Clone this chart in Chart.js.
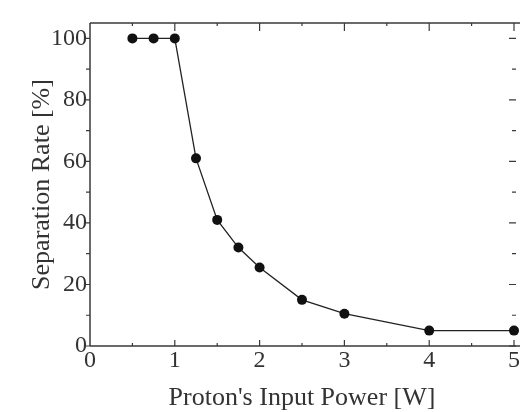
<!DOCTYPE html>
<html>
<head>
<meta charset="utf-8">
<script src="https://cdn.jsdelivr.net/npm/chart.js@4/dist/chart.umd.min.js"></script>
<style>
  html, body { margin: 0; padding: 0; background: #fff; }
  #wrap { width: 520px; height: 412px; }
</style>
</head>
<body>
<div id="wrap"><canvas id="myChart" width="520" height="412"></canvas></div>
<script>
// input power [W] and separation rate [%]
var powerW = [0.5, 0.75, 1, 1.25, 1.5, 1.75, 2, 2.5, 3, 4, 5];
var separationRate = [100, 100, 100, 61, 41, 32, 25.5, 15, 10.5, 5, 5];

var xTitle = "Proton's Input Power [W]";
var yTitle = 'Separation Rate [%]';

var points = powerW.map(function (p, i) {
  return { x: p, y: separationRate[i] };
});

// frame + tick marks (inner/outer, major/minor) like the original plot
var frameTicks = {
  id: 'frameTicks',
  afterDraw: function (chart) {
    var ctx = chart.ctx;
    var a = chart.chartArea;
    var xs = chart.scales.x;
    var ys = chart.scales.y;
    ctx.save();
    ctx.strokeStyle = '#3a3a3a';
    ctx.lineWidth = 1.5;
    ctx.beginPath();
    ctx.moveTo(a.left, a.top); ctx.lineTo(a.left, a.bottom);
    ctx.moveTo(a.left, a.bottom); ctx.lineTo(chart.width, a.bottom);
    ctx.moveTo(a.left, a.top); ctx.lineTo(chart.width, a.top);
    ctx.stroke();

    ctx.lineWidth = 1.2;
    ctx.beginPath();
    for (var v = 0; v <= 100; v += 10) {
      var y = ys.getPixelForValue(v);
      var major = v % 20 === 0;
      ctx.moveTo(a.left - (major ? 6 : 4), y); ctx.lineTo(a.left, y);
      ctx.moveTo(a.right + 2, y); ctx.lineTo(a.right + 2 - (major ? 7 : 4), y);
    }
    for (var t = 0.5; t <= 5; t += 0.5) {
      var x = xs.getPixelForValue(t);
      var big = t % 1 === 0;
      ctx.moveTo(x, a.bottom); ctx.lineTo(x, a.bottom - (big ? 6 : 3));
      ctx.moveTo(x, a.top); ctx.lineTo(x, a.top + (big ? 8 : 3));
    }
    ctx.stroke();
    ctx.restore();
  }
};

var serif = "'Liberation Serif', 'DejaVu Serif', serif";

new Chart(document.getElementById('myChart'), {
  type: 'line',
  data: {
    datasets: [{
      data: points,
      borderColor: '#222',
      borderWidth: 1.3,
      backgroundColor: '#111',
      pointRadius: 5,
      pointBorderWidth: 0,
      pointBackgroundColor: '#111',
      tension: 0,
      clip: false
    }]
  },
  options: {
    responsive: false,
    animation: false,
    layout: { autoPadding: false, padding: { left: 0, top: 23, right: 2, bottom: 0 } },
    plugins: { legend: { display: false }, tooltip: { enabled: false } },
    scales: {
      x: {
        type: 'linear',
        min: 0,
        max: 5,
        grid: { display: false, drawTicks: false },
        border: { display: false },
        afterFit: function (s) { s.height = 66; },
        ticks: {
          stepSize: 1,
          padding: 0,
          color: '#333',
          font: { family: serif, size: 24 },
          maxRotation: 0,
          autoSkip: false
        },
        title: {
          display: true,
          text: xTitle,
          color: '#333',
          font: { family: serif, size: 26, lineHeight: 1 },
          padding: { top: 0, bottom: 1 }
        }
      },
      y: {
        min: 0,
        max: 105,
        grid: { display: false, drawTicks: false },
        border: { display: false },
        afterFit: function (s) { s.width = 90; },
        ticks: {
          stepSize: 20,
          includeBounds: false,
          padding: 3,
          color: '#333',
          font: { family: serif, size: 24 },
          callback: function (v) { return v % 20 === 0 ? v : ''; }
        },
        title: {
          display: true,
          text: yTitle,
          color: '#333',
          font: { family: serif, size: 26, lineHeight: 1 },
          padding: { top: 29, bottom: 0 }
        }
      }
    }
  },
  plugins: [frameTicks]
});
</script>
</body>
</html>
